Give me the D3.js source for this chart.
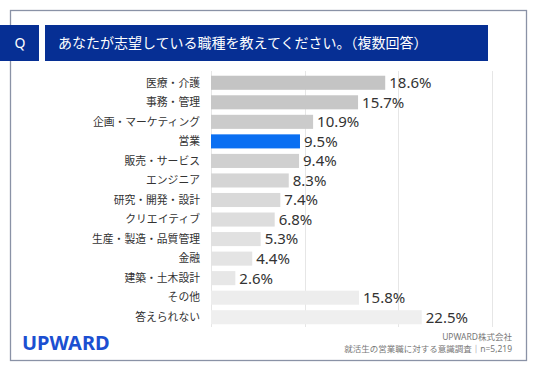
<!DOCTYPE html>
<html>
<head>
<meta charset="utf-8">
<script src="https://cdn.jsdelivr.net/npm/d3@7"></script>
<style>
  body { margin: 0; background: #fff; }
  svg { display: block; font-family: "Noto Sans", "Noto Sans CJK JP", sans-serif; }
</style>
</head>
<body>
<div id="chart"></div>
<script>
var categories = ["医療・介護", "事務・管理", "企画・マーケティング", "営業", "販売・サービス",
  "エンジニア", "研究・開発・設計", "クリエイティブ", "生産・製造・品質管理", "金融",
  "建築・土木設計", "その他", "答えられない"];
var values = [18.6, 15.7, 10.9, 9.5, 9.4, 8.3, 7.4, 6.8, 5.3, 4.4, 2.6, 15.8, 22.5];
var barColors = ["#c4c4c4", "#c7c7c7", "#cbcbcb", "#0a6ff2", "#d0d0d0", "#d5d5d5", "#d9d9d9",
  "#dddddd", "#e1e1e1", "#e4e4e4", "#e7e7e7", "#ededed", "#efefef"];
var gridTicks = [0, 10, 20, 30];

var width = 536, height = 371;

var svg = d3.select("#chart").append("svg")
    .attr("width", width)
    .attr("height", height);

// outer frame
svg.append("rect")
    .attr("x", 10.5).attr("y", 10.5)
    .attr("width", 516).attr("height", 350)
    .attr("fill", "#fff")
    .attr("stroke", "#8a92a6")
    .attr("stroke-width", 1.3);

// header
svg.append("rect")
    .attr("x", 0).attr("y", 25)
    .attr("width", 39).attr("height", 36)
    .attr("fill", "#062f94");
svg.append("text")
    .attr("x", 20).attr("y", 48)
    .attr("text-anchor", "middle")
    .attr("fill", "#fff")
    .attr("font-size", "14px")
    .text("Q");
svg.append("rect")
    .attr("x", 45).attr("y", 25)
    .attr("width", 443).attr("height", 36)
    .attr("fill", "#062f94");
svg.append("text")
    .attr("x", 58).attr("y", 48)
    .attr("fill", "#fff")
    .attr("font-size", "14px")
    .text("あなたが志望している職種を教えてください。（複数回答）");

var x = d3.scaleLinear().domain([0, 30]).range([211, 492]);
var y = d3.scaleBand().domain(categories).range([73, 327]).paddingInner(0.28).paddingOuter(0.14);

// grid
svg.selectAll("line.grid").data(gridTicks).enter().append("line")
    .attr("class", "grid")
    .attr("x1", function(d) { return Math.round(x(d)) + 0.5; })
    .attr("x2", function(d) { return Math.round(x(d)) + 0.5; })
    .attr("y1", 71).attr("y2", 327)
    .attr("stroke", "#e6e6e6")
    .attr("stroke-width", 1);

var rows = categories.map(function(c, i) { return {cat: c, val: values[i], color: barColors[i]}; });

svg.selectAll("rect.bar").data(rows).enter().append("rect")
    .attr("class", "bar")
    .attr("x", x(0))
    .attr("y", function(d) { return y(d.cat); })
    .attr("width", function(d) { return x(d.val) - x(0); })
    .attr("height", y.bandwidth())
    .attr("fill", function(d) { return d.color; });

svg.selectAll("text.cat").data(rows).enter().append("text")
    .attr("class", "cat")
    .attr("x", 200)
    .attr("y", function(d) { return y(d.cat) + y.bandwidth() / 2; })
    .attr("dy", "0.35em")
    .attr("text-anchor", "end")
    .attr("fill", "#333")
    .attr("font-size", "10.8px")
    .text(function(d) { return d.cat; });

svg.selectAll("text.val").data(rows).enter().append("text")
    .attr("class", "val")
    .attr("x", function(d) { return x(d.val) + 4; })
    .attr("y", function(d) { return y(d.cat) + y.bandwidth() / 2; })
    .attr("dy", "0.36em")
    .attr("fill", "#333")
    .attr("font-size", "15px")
    .text(function(d) { return d.val.toFixed(1) + "%"; });

// footer
svg.append("text")
    .attr("x", 22).attr("y", 350)
    .attr("fill", "#1b4fd1")
    .attr("font-size", "20px")
    .attr("font-weight", "bold")
    .text("UPWARD");
svg.append("text")
    .attr("x", 512).attr("y", 340)
    .attr("text-anchor", "end")
    .attr("fill", "#777")
    .attr("font-size", "8.5px")
    .text("UPWARD株式会社");
svg.append("text")
    .attr("x", 512).attr("y", 352)
    .attr("text-anchor", "end")
    .attr("fill", "#777")
    .attr("font-size", "8.5px")
    .text("就活生の営業職に対する意識調査｜n=5,219");
</script>
</body>
</html>
